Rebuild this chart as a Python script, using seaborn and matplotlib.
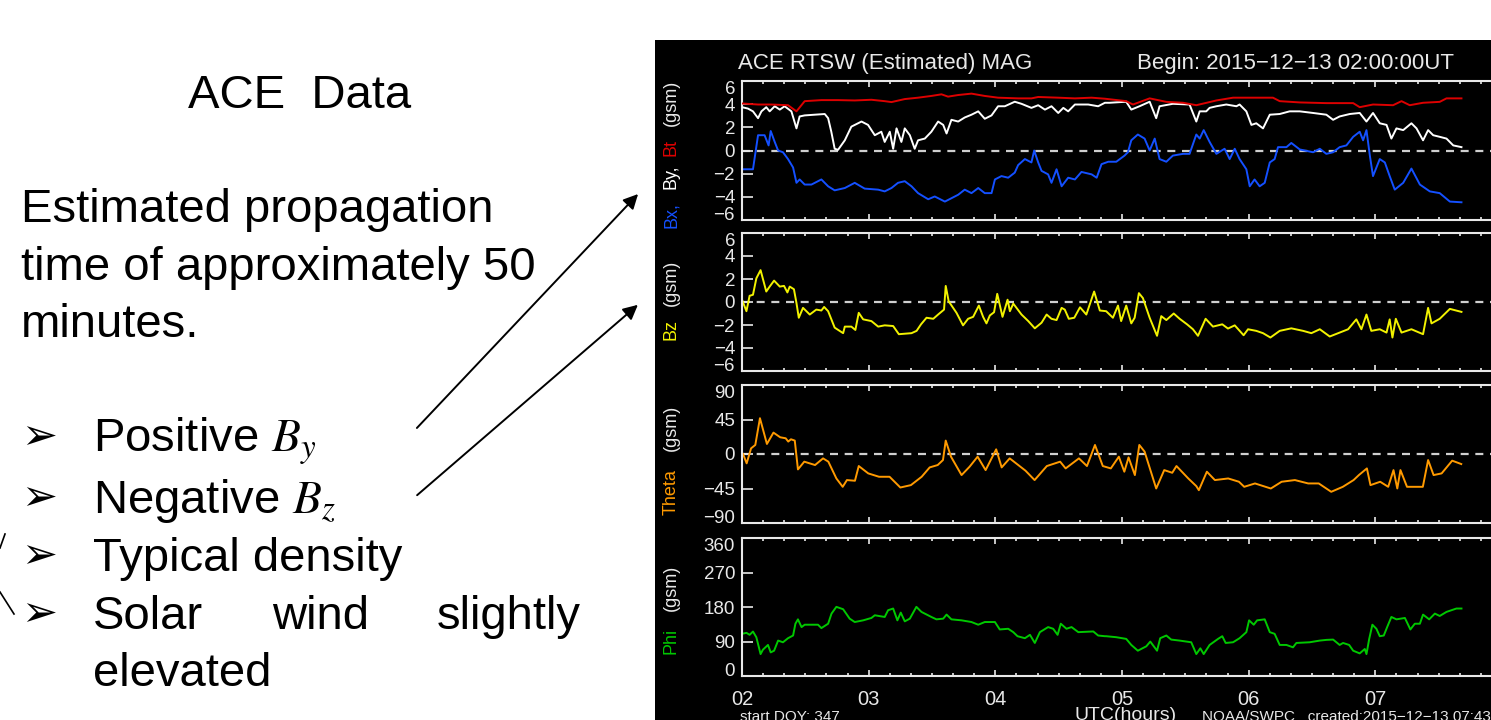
import numpy as np
import pandas as pd
import matplotlib
matplotlib.use("Agg")
import matplotlib.pyplot as plt
from matplotlib.patches import Rectangle, FancyArrowPatch
from matplotlib.lines import Line2D
from matplotlib.ticker import MultipleLocator, FixedLocator
import seaborn as sns

# ---------------- data (minutes after 02:00 UT) ----------------
bt_min = [0, 7.6, 13.9, 21.8, 25.8, 29.7, 37.6, 45.5, 53.4, 61.3, 67.6, 70.8, 77.1, 83.4, 89.7, 94.5,
          97.6, 102.4, 108.7, 115, 121.3, 130.8, 137.1, 140.3, 149.8, 157.7, 165.6, 171.9, 182, 185.2,
          193.1, 201, 208.9, 215.2, 224.7, 232.6, 242, 251.5, 254.7, 264.2, 276.8, 289.5, 292.6, 298.9,
          308.4, 312.4, 316.3, 322.6, 330.5, 333.7, 340.8]
bt_val = [4.06, 3.97, 3.97, 3.91, 3.38, 4.26, 4.35, 4.35, 4.32, 4.38, 4.26, 4.18, 4.44, 4.56, 4.71, 4.85,
          4.65, 4.79, 4.91, 4.71, 4.56, 4.5, 4.5, 4.62, 4.56, 4.5, 4.56, 4.47, 4.26, 3.97,
          4.5, 4.2, 4.12, 3.91, 4.32, 4.56, 4.56, 4.56, 4.26, 4.15, 4.09, 4.09, 3.74, 3.97,
          3.91, 4.26, 3.91, 4.12, 4.2, 4.5, 4.5]

by_min = [0, 2.8, 5.2, 7.6, 9.2, 11.5, 13.1, 15.5, 17.9, 20.2, 23.4, 25.8, 27.3, 29.7, 34.4, 39.2, 40.8,
          42.3, 43.9, 45.5, 48.7, 51.8, 56.6, 59.7, 62.9, 66, 67.6, 70, 71.6, 73.2, 75.5, 77.1, 79.5,
          81.8, 83.4, 86.6, 89.7, 92.9, 95.3, 96.9, 99.2, 102.4, 105.5, 108.7, 111.9, 115, 118.2, 121.3,
          124.5, 129.2, 132.4, 137.1, 140.3, 143.5, 146.6, 149.8, 152.2, 154.5, 157.7, 164, 168.7, 171.9,
          174.1, 182, 184.4, 188.3, 193.1, 196.2, 197.8, 204.1, 212, 215.2, 216.8, 219.9, 221.5, 224.7,
          229.4, 234.2, 235.7, 238.9, 241.3, 243.6, 246.8, 250, 254.7, 259.4, 264.2, 270.5, 276.8, 280,
          283.1, 287.9, 292.6, 295.8, 298.9, 302.1, 305.3, 307.6, 310, 313.2, 317.1, 319.5, 322.6, 325,
          327.4, 330.5, 333.7, 336.9, 340.8]
by_val = [3.74, 3.62, 3.38, 2.79, 3.38, 3.74, 3.38, 3.82, 3.53, 3.82, 3.38, 1.91, 2.94, 3.03, 3.09, 3.15, 2.79,
          1.62, 0.15, 0.06, 0.88, 2.06, 2.5, 2.21, 1.32, 1.62, 0.74, 1.62, 0.15, 1.91, 0.74, 1.91, 1.32,
          0.15, 0.88, 1.03, 1.62, 2.5, 2.21, 1.47, 2.65, 2.5, 2.85, 3.09, 3.38, 2.74, 3.03, 3.82,
          3.82, 4.21, 4.03, 3.68, 3.91, 3.53, 3.82, 3.24, 3.68, 3.38, 3.97, 3.97, 3.82, 4.12,
          4.12, 4.21, 3.53, 3.82, 4.21, 2.79, 3.82, 4.03, 3.97, 2.5, 3.38, 3.38, 3.68, 3.82,
          3.97, 3.82, 3.97, 3.38, 2.21, 2.35, 1.91, 3.09, 3.15, 3.38, 3.38, 3.24, 3.09, 2.65,
          2.94, 3.15, 3.24, 2.5, 3.24, 2.35, 2.21, 1.03, 1.91, 1.76, 2.35, 1.91, 0.88, 1.76,
          1.32, 1.18, 1.03, 0.44, 0.29]

bx_min = [0, 5.2, 7.6, 9.2, 10.7, 12.6, 13.6, 15.5, 17.1, 19.4, 21.8, 24.2, 25.8, 27.3, 29.7, 32.9, 37.6,
          40.8, 43.9, 48.7, 53.4, 58.1, 64.5, 67.6, 70.8, 73.9, 77.1, 80.3, 83.4, 88.2, 91.3, 96.1, 99.2,
          102.4, 105.5, 108.7, 111.9, 115, 118.2, 119.8, 122.9, 126.1, 129.2, 130.8, 134, 137.1, 138.4,
          140.3, 141.9, 145, 146.6, 149, 151.4, 154.5, 157.7, 160.8, 165.6, 168, 170.3, 173.5, 177.3,
          181.2, 182.8, 184.4, 187.5, 190.7, 193.1, 195.5, 197.8, 201, 204.1, 208.9, 212, 215.2, 216.8,
          218.7, 221.5, 224.7, 228.6, 231, 233.4, 235.7, 238.9, 240.5, 242.8, 245.2, 247.6, 250, 252.3,
          253.9, 257.9, 260.2, 264.2, 270.5, 273.7, 276.8, 280, 283.1, 286.3, 289.5, 292.6, 294.2, 295.8,
          297.4, 298.9, 302.1, 304.5, 306.8, 309.2, 313.2, 317.1, 321.1, 325.8, 330.5, 335.3, 340.8]
bx_val = [-1.62, -1.62, 1.32, 1.32, 1.32, 0.44, 1.68, 0.74, 0, -0.15, -0.74, -1.47, -2.79, -2.5, -2.94, -2.94, -2.5,
          -3.09, -3.44, -3.24, -2.79, -3.29, -3.38, -3.53, -3.24, -2.79, -2.65, -3.09, -3.68, -4.21, -3.97, -4.41, -4.12,
          -3.82, -3.38, -3.68, -3.24, -3.68, -3.68, -2.5, -2.21, -2.35, -1.91, -1.26, -0.74, -1.03, 0,
          -1.03, -1.76, -2.06, -2.79, -1.62, -3.09, -2.35, -2.5, -1.85, -2.06, -2.35, -1.18, -0.97, -0.97,
          -0.44, -0.15, 0.88, 1.38, 1.03, 0, 1.03, -0.74, -0.97, -0.44, -0.29, -0.29, 1.38, 1.03,
          1.76, 0.74, -0.29, 0.15, -0.74, 0.15, -0.74, -1.62, -3.09, -2.5, -3.09, -2.79, -1.03, -0.74,
          0.29, 0.29, 0.65, 0.09, -0.15, 0.15, -0.29, -0.15, 0.29, 0.44, 1.18, 1.62, 0.88, 1.76,
          -0.44, -2.21, -0.74, -1.03, -2.21, -3.38, -2.79, -1.56, -2.94, -3.53, -3.68, -4.41, -4.47]

bz_min = [0, 2.1, 3.6, 5.2, 6.8, 8.8, 11.5, 13.1, 15.2, 17.9, 19.9, 21.5, 22.6, 24.6, 25.8, 26.9, 28.9, 32.1,
          35.2, 37.6, 38.9, 40.8, 43.9, 47.9, 48.7, 51.8, 53.7, 55.3, 57.4, 61.3, 64.5, 67.6, 71.6, 74.3,
          80.3, 82.7, 84.8, 87.4, 90.6, 92.9, 95.7, 96.5, 97.9, 101.6, 104.7, 107.1, 109.5, 112.2, 114.2,
          115.8, 117.4, 119.4, 120.9, 123.4, 125.8, 126.9, 128.5, 132.4, 135.6, 138.7, 141.9, 144.3, 146.6,
          149, 151.4, 152.9, 154.8, 157.4, 160.1, 163.1, 166.8, 169.5, 172.5, 175.7, 178.1, 179.6, 182,
          184.4, 186, 188, 189.9, 193.1, 196.6, 198.6, 201, 204.5, 207.3, 210.8, 213.6, 216, 219.6, 223.1,
          227.5, 230.2, 233.4, 237.6, 239.7, 243.6, 246.8, 250.3, 254.7, 260.2, 265.8, 269.7, 273.7, 278.4,
          283.1, 287.1, 291, 293.4, 295.8, 298.1, 302.1, 305.3, 306.8, 308.1, 309.7, 312.4, 317.1, 322.6,
          325, 326.6, 330.5, 335.3, 340.8]
bz_val = [0.2, -0.8, 0.54, 0.63, 2.06, 2.77, 0.91, 1.34, 1.86, 1.34, 1.4, 0.83, 1.34, 1.11, -0.09, -1.37, -0.51, -1.09,
          -0.66, -0.74, -0.43, -0.8, -2.23, -2.71, -2.14, -2.14, -2.43, -0.94, -1.51, -1.66, -2.14, -2.03, -2.09, -2.8,
          -2.71, -2.51, -1.94, -1.37, -1.46, -1.09, -0.66, 1.4, 0.06, -0.94, -2.03, -1.46, -1.29, -0.31, -1.29,
          -1.86, -1.17, -0.89, 0.71, -1.29, 0.2, -0.8, -0.14, -1.09, -1.66, -2.29, -1.8, -1.09, -1.46,
          -1.57, -0.51, -0.66, -1.46, -1.37, -0.46, -1.09, 0.91, -0.74, -0.8, -1.37, -0.31, -1.66, -0.31,
          -1.86, -1.37, 0.77, 0.34, -1.37, -2.94, -1.23, -1.57, -1.0, -1.46, -1.94, -2.37, -2.94, -1.46, -2.14,
          -1.94, -2.31, -2.03, -2.89, -2.37, -2.51, -2.71, -3.09, -2.51, -2.29, -2.51, -2.71, -2.37, -3.0,
          -2.66, -2.37, -1.51, -2.37, -1.09, -2.51, -2.37, -2.66, -1.51, -3.09, -1.46, -2.66, -2.37, -2.8,
          -0.51, -1.86, -1.46, -0.6, -0.86]

th_min = [0.5, 2.2, 4.3, 6.3, 8.5, 11.8, 14.9, 18.1, 20.7, 21.9, 23.2, 25, 26.5, 29.5, 34.6, 38.4, 40.9, 44.7,
          47.7, 49.7, 53.5, 55.3, 59.8, 64.9, 69.9, 75, 80, 85.1, 88.9, 92.7, 95.2, 96.5, 99, 104, 107.8,
          111.6, 115.4, 120.4, 123, 126.8, 134.3, 138.6, 144.4, 150.7, 153.3, 159.6, 163.4, 167.2, 170.9,
          174.7, 178.5, 181.1, 183.1, 186.1, 188.2, 190.7, 196.2, 200, 203.8, 205.8, 211.4, 215.2, 216.4,
          220.2, 224, 230.3, 235.4, 237.9, 243, 250.5, 255.6, 261.9, 268.2, 273.2, 279.1, 284.6, 289.7,
          292.2, 296, 297.7, 302.3, 306.1, 308.6, 310.4, 311.9, 315, 322.5, 325, 327.6, 331.4, 336.4, 340.7]
th_val = [0, -12.2, 7.4, 11.8, 46.7, 13.1, 27.9, 21.8, 20.5, 16.2, 19.2, 17.5, -20.1, -10, -14.4, -5.7, -10, -31.9,
          -42.8, -34, -34.9, -15.7, -25.3, -29.7, -29.7, -43.7, -40.6, -29.7, -17.5, -14.4, -7.9, 17.5, -3.5, -27.5, -16.6,
          -3.5, -21, 6.1, -17.5, -5.7, -21.8, -34, -15.7, -10, -18.8, -5.7, -15.7, 11.8, -15.7,
          -18.8, -3.5, -23.1, -4.4, -27.5, 11.8, 3.1, -45, -21, -24.5, -15.7, -31.9, -41.9, -47.2,
          -23.1, -34, -31.9, -36.2, -42.8, -38.4, -45, -36.2, -34, -38.4, -38.4, -49.3, -42.8, -34,
          -27.5, -18.8, -40.6, -36.2, -42.8, -21, -45, -21, -42.8, -42.8, -7.9, -27.5, -25.3, -8.7, -13.1]

ph_min = [0, 2.1, 3.6, 5.2, 6.8, 8.8, 9.9, 12.3, 13.6, 15.2, 17.1, 19.4, 21.8, 24.2, 25.3, 26.5, 28.2, 29.7, 36,
          37.6, 40.8, 42.4, 44.7, 47.9, 51, 53.4, 57.4, 61.3, 62.9, 67.6, 69.2, 71.6, 73.6, 75.2, 77.1, 79.5,
          82.6, 85, 89.7, 92.1, 95.3, 96.9, 99.2, 104, 108.7, 111.9, 115, 119.8, 122.1, 126.1, 128.5, 130.5,
          134, 136.4, 138.7, 141.1, 145, 147.4, 149.5, 151, 153.7, 156.1, 159.3, 166.4, 168.7, 171.9, 172.5,
          177.3, 182, 184.4, 187.5, 191.5, 193.4, 196.6, 198.1, 201, 203.3, 207.3, 212.8, 215.2, 217.1, 218.7,
          221.5, 225.5, 227.5, 229.1, 232.6, 235.7, 238.9, 240.2, 242.4, 244, 247.6, 250, 252.3, 254.7, 257.9,
          261, 262.6, 268.9, 273.7, 276.8, 280, 283.1, 284.7, 287.6, 289.5, 292.6, 295, 295.8, 297.1, 298.6,
          300.5, 302.1, 304, 305.6, 307.6, 310, 314, 316.6, 318.7, 321.1, 322.6, 325.5, 328.2, 330.5, 333.7,
          338.4, 340.8]
ph_val = [110, 112.6, 107.4, 116, 101, 57.2, 68.6, 81, 61.6, 66, 92.4, 88, 98.6, 105.6, 136.4, 147.8, 127.6, 133.8, 133.8,
          125, 136.4, 162.8, 180.4, 174.2, 149.6, 140.8, 145.2, 151.4, 158.4, 154, 171.6, 176, 145.2, 165.4, 142.6, 149.6,
          180.4, 167.2, 154, 147.8, 149.6, 160.2, 147.8, 145.2, 140.8, 133.8, 140.8, 140.8, 121.4, 123.2, 114.4, 103.8,
          98.6, 107.4, 86.2, 114.4, 127.6, 123.2, 107.4, 136.4, 123.2, 127.6, 114.4, 116.2, 105.6, 103.8, 103.8,
          101.2, 96.8, 81, 66, 77.4, 89.8, 66, 98.6, 105.6, 95, 92.4, 88, 57.2, 72.2, 57.2,
          81, 96.8, 103.8, 86.2, 88, 98.6, 114.4, 145.2, 133.8, 145.2, 147.8, 114.4, 110, 81, 81,
          74.8, 86.2, 88, 92.4, 94.2, 95, 81, 86.2, 81, 66, 59, 70.4, 57.2, 96.8, 133.8,
          123.2, 103.8, 105.6, 127.6, 154, 147.8, 151.4, 121.4, 136.4, 136.4, 160.2, 147.8, 162.8, 156.6, 167.2,
          176, 176]

hour_ticks = [2, 3, 4, 5, 6, 7, 8]
hour_labels = ["02", "03", "04", "05", "06", "07", ""]

# ---------------- figure ----------------
W, H = 1491, 720
plt.rcParams["font.family"] = ["Liberation Sans", "DejaVu Sans"]
plt.rcParams["mathtext.fontset"] = "stix"
fig = plt.figure(figsize=(W / 100, H / 100), dpi=100)
fig.patch.set_facecolor("white")


def fx(x):
    return x / W


def fy(y):
    return 1 - y / H


fig.add_artist(Rectangle((fx(655), 0), fx(W - 655), 1 - 40 / H, transform=fig.transFigure,
                         facecolor="black", edgecolor="none", zorder=0))

WHITE = "#e8e8e8"
RED = "#dd0000"
BLUE = "#1450ff"
YEL = "#f2f200"
ORA = "#ff9a00"
GRN = "#00c800"

panels = [(81, 220), (233, 371), (385, 523), (538, 676)]
axes = []
for (top, bot) in panels:
    ax = fig.add_axes([fx(742), fy(bot), 760 / W, (bot - top) / H])
    ax.set_facecolor("black")
    for s in ax.spines.values():
        s.set_color(WHITE)
        s.set_linewidth(1.5)
    ax.set_xlim(2, 8)
    ax.xaxis.set_major_locator(FixedLocator(hour_ticks))
    ax.xaxis.set_minor_locator(MultipleLocator(1 / 6))
    ax.tick_params(axis="x", which="both", direction="in", top=True, bottom=True, colors=WHITE,
                   labelsize=14.5, pad=10)
    ax.tick_params(axis="x", which="major", length=4.5, width=1.2)
    ax.tick_params(axis="x", which="minor", length=2.5, width=1.2)
    ax.tick_params(axis="y", which="major", direction="in", length=8, width=1.2, colors=WHITE,
                   labelsize=13.5, pad=5)
    axes.append(ax)


def hours(mins):
    return [2 + m / 60 for m in mins]


def zero_line(ax):
    ax.axhline(0, color="#cfcfcf", lw=1.6, ls=(0, (3.6, 3.0)), zorder=1)


# panel 1
ax = axes[0]
zero_line(ax)
df = pd.DataFrame({"t": hours(bx_min), "v": bx_val})
sns.lineplot(data=df, x="t", y="v", ax=ax, color=BLUE, lw=1.4, estimator=None, sort=False, zorder=2)
df = pd.DataFrame({"t": hours(by_min), "v": by_val})
sns.lineplot(data=df, x="t", y="v", ax=ax, color="white", lw=1.4, estimator=None, sort=False, zorder=3)
df = pd.DataFrame({"t": hours(bt_min), "v": bt_val})
sns.lineplot(data=df, x="t", y="v", ax=ax, color=RED, lw=1.4, estimator=None, sort=False, zorder=4)
ax.set_ylim(-6, 6)
ax.set_yticks([-6, -4, -2, 0, 2, 4, 6])

# panel 2
ax = axes[1]
zero_line(ax)
df = pd.DataFrame({"t": hours(bz_min), "v": bz_val})
sns.lineplot(data=df, x="t", y="v", ax=ax, color=YEL, lw=1.4, estimator=None, sort=False, zorder=2)
ax.set_ylim(-6, 6)
ax.set_yticks([-6, -4, -2, 0, 2, 4, 6])

# panel 3
ax = axes[2]
zero_line(ax)
df = pd.DataFrame({"t": hours(th_min), "v": th_val})
sns.lineplot(data=df, x="t", y="v", ax=ax, color=ORA, lw=1.4, estimator=None, sort=False, zorder=2)
ax.set_ylim(-90, 90)
ax.set_yticks([-90, -45, 0, 45, 90])

# panel 4
ax = axes[3]
df = pd.DataFrame({"t": hours(ph_min), "v": ph_val})
sns.lineplot(data=df, x="t", y="v", ax=ax, color=GRN, lw=1.4, estimator=None, sort=False, zorder=2)
ax.set_ylim(0, 360)
ax.set_yticks([0, 90, 180, 270, 360])

for i, ax in enumerate(axes):
    ax.set_xlabel("")
    ax.set_ylabel("")
    if i < 3:
        ax.set_xticklabels([])
    else:
        ax.set_xticklabels(hour_labels)
    ticks = ax.yaxis.get_major_ticks()
    ticks[0].label1.set_verticalalignment("baseline")
    ticks[-1].label1.set_verticalalignment("top")

# panel texts
fig.text(fx(738), fy(63), "ACE RTSW (Estimated) MAG", color=WHITE, fontsize=16, va="center", ha="left")
fig.text(fx(1137), fy(63), "Begin: 2015\u221212\u221213 02:00:00UT", color=WHITE, fontsize=16,
         va="center", ha="left")

ylab = [("Bx,", 215, BLUE), ("By,", 177, "white"), ("Bt", 147, RED), ("(gsm)", 103, WHITE),
        ("Bz", 330, YEL), ("(gsm)", 283, WHITE),
        ("Theta", 492, ORA), ("(gsm)", 428, WHITE),
        ("Phi", 641, GRN), ("(gsm)", 588, WHITE)]
for s, y, c in ylab:
    fig.text(fx(671), fy(y), s, color=c, fontsize=13, rotation=90, ha="center", va="center")

fig.text(fx(740), fy(710), "start DOY: 347", color=WHITE, fontsize=11, va="top", ha="left")
fig.text(fx(1074), fy(707), "UTC(hours)", color=WHITE, fontsize=14, va="top", ha="left")
fig.text(fx(1202), fy(710), "NOAA/SWPC   created:2015\u221212\u221213 07:43:04UT", color=WHITE,
         fontsize=11, va="top", ha="left")

# ---------------- slide text ----------------
TF = 34
fig.text(fx(300), fy(108), "ACE  Data", fontsize=TF, ha="center", va="baseline", color="black")
fig.text(fx(21), fy(222), "Estimated propagation", fontsize=TF, ha="left", va="baseline")
fig.text(fx(21), fy(280), "time of approximately 50", fontsize=TF, ha="left", va="baseline")
fig.text(fx(21), fy(337), "minutes.", fontsize=TF, ha="left", va="baseline")

bul_y = [452, 513, 571, 629]
for y in bul_y:
    fig.text(fx(21), fy(y - 3), "\u27a2", fontsize=31, ha="left", va="baseline",
             family=["DejaVu Sans"], fontweight="bold")
fig.text(fx(93), fy(452), "Positive $B_y$", fontsize=TF, ha="left", va="baseline")
fig.text(fx(93), fy(513), "Negative $B_z$", fontsize=TF, ha="left", va="baseline")
fig.text(fx(93), fy(571), "Typical density", fontsize=TF, ha="left", va="baseline")
fig.text(fx(93), fy(629), "Solar", fontsize=TF, ha="left", va="baseline")
fig.text(fx(272), fy(629), "wind", fontsize=TF, ha="left", va="baseline")
fig.text(fx(581), fy(629), "slightly", fontsize=TF, ha="right", va="baseline")
fig.text(fx(93), fy(686), "elevated", fontsize=TF, ha="left", va="baseline")

for (x0, y0, x1, y1) in [(415, 430, 640, 192), (415, 497, 640, 303)]:
    fig.add_artist(FancyArrowPatch((fx(x0), fy(y0)), (fx(x1), fy(y1)), transform=fig.transFigure,
                                   arrowstyle="-|>", mutation_scale=22, color="black", lw=1.4))
fig.add_artist(Line2D([fx(0), fx(5)], [fy(548), fy(534)], transform=fig.transFigure, color="black", lw=1.2))
fig.add_artist(Line2D([fx(0), fx(14)], [fy(592), fy(614)], transform=fig.transFigure, color="black", lw=1.2))

fig.savefig("out.png", dpi=100, facecolor="white")
